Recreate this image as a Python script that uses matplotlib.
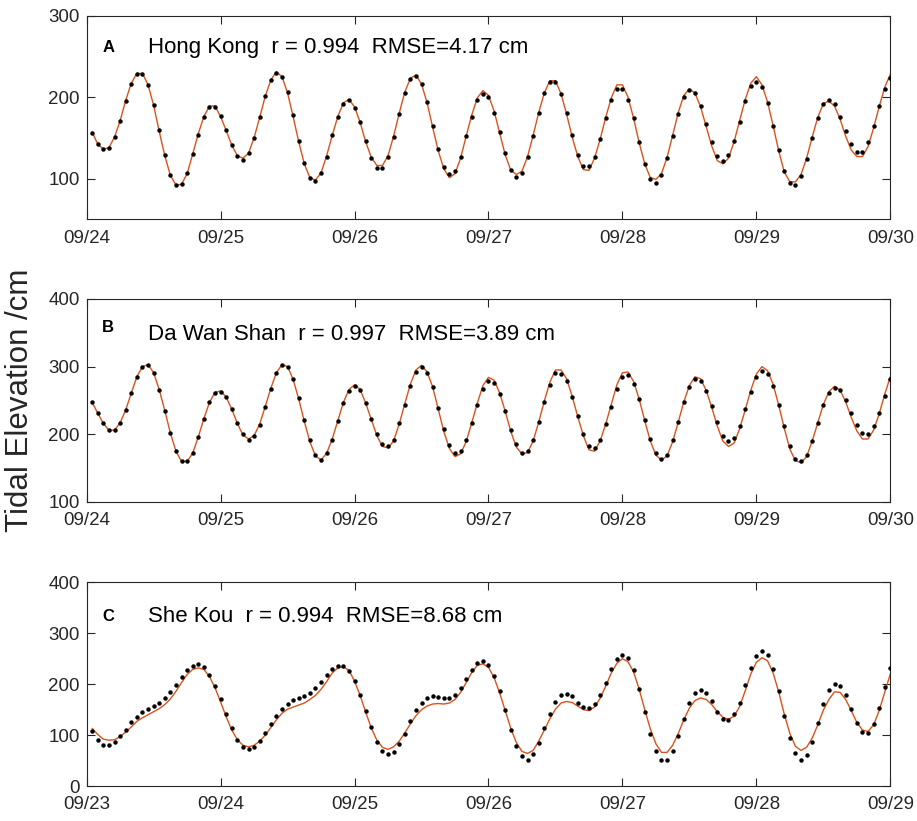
import matplotlib
matplotlib.use("Agg")
import matplotlib.pyplot as plt
import matplotlib.dates as mdates
import pandas as pd

plt.rcParams['font.family'] = ['Liberation Sans', 'DejaVu Sans']

# hourly values, first point at 01:00 of the start day
start_a = "2018-09-24 01:00"
start_b = "2018-09-24 01:00"
start_c = "2018-09-23 01:00"

# Hong Kong: observed (dots) and model (line), cm
obs_a = [156, 142, 136, 138, 151, 171, 195, 216, 228, 228, 215, 190,
         159, 129, 104, 92, 93, 107, 130, 154, 176, 188, 188, 177,
         160, 141, 128, 123, 131, 150, 175, 201, 221, 230, 225, 206,
         178, 146, 119, 101, 97, 107, 127, 153, 176, 192, 197, 187,
         169, 146, 125, 113, 113, 127, 151, 179, 205, 222, 226, 216,
         194, 165, 136, 114, 105, 109, 127, 152, 176, 196, 204, 200,
         181, 157, 131, 111, 102, 107, 126, 152, 181, 205, 218, 218,
         204, 180, 153, 129, 115, 115, 127, 148, 174, 197, 210, 210,
         197, 174, 145, 118, 100, 95, 104, 125, 152, 179, 200, 209,
         205, 189, 167, 145, 128, 122, 129, 146, 170, 195, 213, 219,
         212, 193, 165, 135, 109, 94, 92, 103, 124, 150, 174, 191,
         196, 191, 176, 158, 142, 133, 133, 145, 165, 189, 210, 223]
mod_a = [157, 142, 136, 138, 151, 171, 196, 217, 229, 229, 215, 190,
         158, 128, 104, 92, 93, 106, 130, 155, 176, 189, 189, 176,
         159, 141, 128, 125, 131, 150, 175, 201, 221, 231, 225, 205,
         176, 145, 118, 101, 98, 107, 128, 153, 176, 193, 197, 188,
         169, 145, 126, 116, 116, 128, 152, 180, 206, 223, 227, 216,
         193, 163, 134, 112, 101, 106, 125, 152, 178, 199, 208, 202,
         183, 156, 129, 110, 105, 109, 127, 153, 181, 205, 220, 220,
         204, 179, 151, 127, 111, 110, 125, 148, 175, 199, 215, 215,
         200, 174, 144, 118, 101, 99, 106, 126, 153, 181, 202, 210,
         205, 188, 164, 140, 122, 118, 125, 145, 171, 197, 217, 225,
         215, 194, 165, 134, 108, 96, 96, 105, 125, 151, 175, 192,
         195, 189, 173, 152, 135, 127, 127, 139, 162, 188, 212, 228]

# Da Wan Shan
obs_b = [247, 231, 216, 206, 206, 217, 236, 261, 285, 300, 303, 291,
         266, 235, 202, 175, 160, 160, 172, 196, 223, 247, 261, 263,
         255, 237, 217, 200, 192, 197, 214, 240, 267, 290, 302, 300,
         282, 253, 221, 191, 170, 162, 172, 192, 219, 246, 264, 272,
         265, 246, 223, 200, 185, 183, 192, 216, 244, 272, 292, 299,
         290, 270, 239, 208, 184, 172, 176, 191, 217, 244, 267, 279,
         276, 260, 235, 207, 185, 172, 175, 191, 218, 247, 273, 290,
         289, 279, 255, 227, 201, 183, 180, 192, 215, 241, 267, 284,
         287, 275, 252, 221, 193, 172, 164, 170, 191, 218, 247, 270,
         282, 279, 264, 242, 218, 198, 190, 194, 212, 237, 263, 284,
         294, 289, 272, 244, 212, 183, 164, 160, 169, 190, 217, 243,
         261, 269, 265, 251, 231, 214, 202, 201, 212, 232, 257, 281]
mod_b = [247, 231, 216, 206, 206, 217, 236, 261, 285, 300, 303, 291,
         266, 235, 202, 175, 160, 160, 172, 196, 223, 247, 262, 264,
         255, 237, 216, 199, 193, 198, 215, 241, 268, 291, 303, 300,
         281, 252, 219, 189, 168, 162, 172, 193, 220, 247, 266, 273,
         266, 246, 222, 198, 182, 180, 190, 215, 245, 274, 295, 302,
         292, 270, 237, 204, 179, 167, 171, 189, 217, 246, 272, 284,
         280, 261, 234, 204, 181, 171, 173, 190, 218, 249, 277, 295,
         295, 282, 256, 226, 198, 177, 175, 190, 215, 244, 273, 291,
         292, 278, 252, 220, 190, 169, 162, 168, 189, 218, 248, 272,
         285, 282, 265, 240, 212, 190, 182, 187, 208, 236, 265, 289,
         300, 294, 274, 243, 209, 178, 161, 158, 167, 190, 217, 244,
         263, 271, 265, 248, 225, 205, 193, 193, 206, 230, 259, 285]

# She Kou
obs_c = [108, 90, 81, 80, 87, 99, 111, 125, 136, 145, 151, 157,
         164, 173, 185, 198, 214, 227, 236, 239, 234, 219, 196, 170,
         141, 113, 91, 77, 73, 77, 88, 105, 122, 138, 152, 161,
         168, 172, 177, 183, 192, 205, 218, 230, 236, 236, 226, 207,
         179, 147, 115, 87, 69, 62, 67, 82, 103, 127, 149, 164,
         172, 176, 174, 172, 172, 179, 193, 210, 228, 241, 246, 237,
         217, 187, 149, 111, 79, 58, 52, 62, 85, 113, 142, 165,
         178, 181, 176, 164, 155, 153, 161, 179, 202, 229, 249, 258,
         251, 228, 191, 146, 103, 69, 52, 52, 69, 98, 132, 163,
         183, 189, 183, 166, 146, 132, 129, 141, 164, 198, 231, 256,
         266, 257, 229, 187, 138, 94, 64, 52, 61, 87, 124, 161,
         189, 201, 197, 178, 151, 124, 107, 105, 122, 154, 194, 232]
mod_c = [113, 101, 92, 90, 91, 97, 106, 116, 127, 134, 140, 146,
         152, 160, 171, 186, 203, 219, 229, 232, 229, 215, 193, 165,
         136, 110, 91, 80, 77, 80, 88, 100, 115, 130, 143, 151,
         155, 159, 163, 170, 178, 190, 205, 222, 232, 234, 227, 206,
         178, 145, 114, 90, 76, 72, 77, 88, 104, 122, 138, 150,
         157, 161, 162, 161, 163, 170, 184, 203, 223, 237, 240, 233,
         213, 183, 148, 113, 85, 68, 64, 70, 88, 110, 132, 151,
         163, 166, 164, 157, 150, 148, 155, 172, 196, 222, 241, 250,
         244, 224, 190, 150, 112, 83, 66, 66, 80, 103, 130, 153,
         168, 173, 170, 160, 146, 135, 131, 137, 156, 187, 220, 243,
         252, 246, 222, 185, 141, 103, 78, 70, 76, 94, 120, 149,
         170, 185, 184, 170, 148, 125, 110, 107, 120, 148, 184, 220]

letters = ["A", "B", "C"]
labels = ["Hong Kong  r = 0.994  RMSE=4.17 cm",
          "Da Wan Shan  r = 0.997  RMSE=3.89 cm",
          "She Kou  r = 0.994  RMSE=8.68 cm"]

axcol = "#262626"
fig = plt.figure(figsize=(9.17, 8.21), dpi=100)

panels = [
    (start_a, obs_a, mod_a, (50, 300), [100, 200, 300], [0.0945, 0.7329, 0.8764, 0.2481], (0.820, 0.815)),
    (start_b, obs_b, mod_b, (100, 400), [100, 200, 300, 400], [0.0945, 0.3886, 0.8764, 0.2473], (0.839, 0.798)),
    (start_c, obs_c, mod_c, (0, 400), [0, 100, 200, 300, 400], [0.0945, 0.0426, 0.8764, 0.2481], (0.811, 0.803)),
]

for i, (start, obs, mod, ylim, yt, rect, ty) in enumerate(panels):
    ax = fig.add_axes(rect)
    t = pd.date_range(start, periods=len(obs), freq="h")
    ax.plot(t, mod, color="#D95319", lw=1.0, zorder=2)
    ax.plot(t, obs, "o", color="k", ms=3.2, mew=0, zorder=3)
    t0 = t[0].normalize()
    ax.set_xlim(t0, t0 + pd.Timedelta(days=6))
    ax.set_ylim(ylim)
    ax.set_yticks(yt)
    ax.xaxis.set_major_locator(mdates.DayLocator())
    ax.xaxis.set_major_formatter(mdates.DateFormatter("%m/%d"))
    ax.tick_params(direction="in", top=True, right=True, length=5.8, width=0.8,
                   labelsize=13.5, color=axcol, labelcolor=axcol)
    ax.tick_params(axis="x", pad=7.5)
    ax.tick_params(axis="y", pad=5)
    for s in ax.spines.values():
        s.set_color(axcol)
        s.set_linewidth(0.8)
    ax.text(0.0194, ty[0], letters[i], transform=ax.transAxes, fontsize=12,
            fontweight="bold", va="baseline", color="k")
    ax.text(0.0767, ty[1], labels[i], transform=ax.transAxes, fontsize=16,
            va="baseline", color="k")

fig.text(20 / 917, 1 - 400 / 821, "Tidal Elevation /cm", rotation=90,
         ha="center", va="center", fontsize=22.5, color=axcol)

fig.savefig("out.png", dpi=100)
